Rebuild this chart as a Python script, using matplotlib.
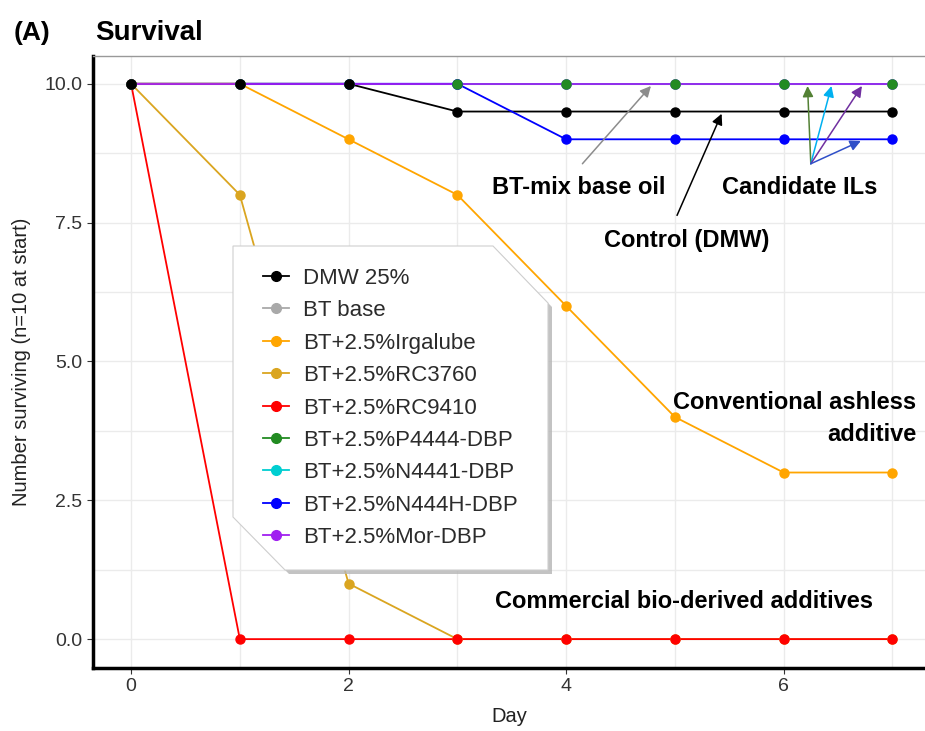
import matplotlib
matplotlib.use("Agg")
import matplotlib.pyplot as plt
from matplotlib.lines import Line2D
from matplotlib.patches import Polygon
from matplotlib.ticker import MultipleLocator, FormatStrFormatter

plt.rcParams['font.family'] = ['Liberation Sans', 'DejaVu Sans']

# --- DATA ---
days = [0, 1, 2, 3, 4, 5, 6, 7]
dmw = [10, 10, 10, 9.5, 9.5, 9.5, 9.5, 9.5]
bt_base = [10, 10, 10, 10, 10, 10, 10, 10]
irgalube = [10, 10, 9, 8, 6, 4, 3, 3]
rc3760 = [10, 8, 1, 0, 0, 0, 0, 0]
rc9410 = [10, 0, 0, 0, 0, 0, 0, 0]
p4444 = [10, 10, 10, 10, 10, 10, 10, 10]
n4441 = [10, 10, 10, 10, 10, 10, 10, 10]
n444h = [10, 10, 10, 10, 9, 9, 9, 9]
mor = [10, 10, 10, 10, 10, 10, 10, 10]

labels = ["DMW 25%", "BT base", "BT+2.5%Irgalube", "BT+2.5%RC3760", "BT+2.5%RC9410",
          "BT+2.5%P4444-DBP", "BT+2.5%N4441-DBP", "BT+2.5%N444H-DBP", "BT+2.5%Mor-DBP"]
series = [dmw, bt_base, irgalube, rc3760, rc9410, p4444, n4441, n444h, mor]
colors = ["#000000", "#A9A9A9", "#FFA500", "#DAA520", "#FF0000",
          "#228B22", "#00CED1", "#0000FF", "#A020F0"]
# draw order (line zorder, marker zorder) so overlaps look like the original
line_z = [2.2, 2.0, 2.3, 2.3, 2.4, 2.1, 2.1, 2.2, 2.5]
mark_z = [3.9, 3.0, 3.4, 3.3, 3.5, 3.8, 3.1, 3.6, 3.2]

# --- FIGURE ---
fig = plt.figure(figsize=(9.25, 7.31), dpi=100)
ax = fig.add_axes([93 / 925, 63 / 731, 832 / 925, 612 / 731])

for y, c, lz, mz in zip(series, colors, line_z, mark_z):
    ax.plot(days, y, '-', color=c, lw=1.3, zorder=lz)
    ax.plot(days, y, 'o', color=c, ms=6.5, ls='none', zorder=mz)

ax.set_xlim(-0.35, 7.3)
ax.set_ylim(-0.52, 10.5)
ax.xaxis.set_major_locator(MultipleLocator(2))
ax.xaxis.set_minor_locator(MultipleLocator(1))
ax.yaxis.set_major_locator(MultipleLocator(2.5))
ax.yaxis.set_minor_locator(MultipleLocator(1.25))
ax.yaxis.set_major_formatter(FormatStrFormatter('%.1f'))
ax.grid(which='both', color='#EBEBEB', lw=1, zorder=0)
ax.set_axisbelow(True)
ax.tick_params(which='major', labelsize=14, labelcolor='#333333', color='#333333', length=4)
ax.tick_params(which='minor', length=0)

ax.spines['right'].set_visible(False)
ax.spines['top'].set_color('#999999')
ax.spines['top'].set_linewidth(1)
ax.spines['left'].set_linewidth(2.5)
ax.spines['bottom'].set_linewidth(2.5)

ax.set_xlabel("Day", fontsize=14.5, color='#222222', labelpad=8)
ax.set_ylabel("Number surviving (n=10 at start)", fontsize=14.5, color='#222222', labelpad=10)

fig.text(14 / 925, 1 - 40 / 731, "(A)", fontsize=19, fontweight='bold')
fig.text(95 / 925, 1 - 40 / 731, "Survival", fontsize=20, fontweight='bold')

# --- ANNOTATIONS ---
ann_kw = dict(fontsize=17, fontweight='bold', zorder=10)
ax.text(4.12, 8.13, "BT-mix base oil", ha='center', va='center', **ann_kw)
ax.text(6.15, 8.13, "Candidate ILs", ha='center', va='center', **ann_kw)
ax.text(5.11, 7.18, "Control (DMW)", ha='center', va='center', **ann_kw)
ax.text(7.22, 3.97, "Conventional ashless\nadditive", ha='right', va='center',
        multialignment='right', linespacing=1.5, **ann_kw)
ax.text(5.08, 0.68, "Commercial bio-derived additives", ha='center', va='center', **ann_kw)


def arrow(tail, head, color):
    ax.annotate("", xy=head, xytext=tail, zorder=9,
                arrowprops=dict(arrowstyle='-|>', color=color, lw=1.1,
                                mutation_scale=16, shrinkA=0, shrinkB=0))


arrow((4.15, 8.56), (4.78, 9.96), '#8C8C8C')
arrow((5.02, 7.63), (5.43, 9.46), '#000000')
il_origin = (6.25, 8.56)
arrow(il_origin, (6.22, 9.96), '#538135')
arrow(il_origin, (6.44, 9.96), '#00B0F0')
arrow(il_origin, (6.72, 9.96), '#7030A0')
arrow(il_origin, (6.71, 8.97), '#2F4FC8')

# --- LEGEND (pasted box with clipped corners) ---
W, H = 925.0, 731.0
box_px = [(233, 246), (493, 246), (548, 303), (548, 570), (285, 570), (233, 517)]
shadow = Polygon([((x + 4) / W, 1 - (y + 4) / H) for x, y in box_px], closed=True,
                 transform=fig.transFigure, facecolor='#B5B5B5', edgecolor='none',
                 alpha=0.8, zorder=20)
box = Polygon([(x / W, 1 - y / H) for x, y in box_px], closed=True,
              transform=fig.transFigure, facecolor='white', edgecolor='#CFCFCF',
              lw=0.8, zorder=21)
fig.add_artist(shadow)
fig.add_artist(box)

row0, pitch = 276, 32.4
for i, (lab, c) in enumerate(zip(labels, colors)):
    yy = 1 - (row0 + i * pitch) / H
    fig.add_artist(Line2D([263 / W, 289 / W], [yy, yy], transform=fig.transFigure,
                          color=c, lw=1.3, zorder=22))
    fig.add_artist(Line2D([276 / W], [yy], transform=fig.transFigure, marker='o',
                          ms=7, color=c, ls='none', zorder=23))
    fig.text(303 / W, yy, lab, fontsize=16, color='#2B2B2B', va='center_baseline',
             zorder=24)

fig.savefig("out.png", dpi=100)
